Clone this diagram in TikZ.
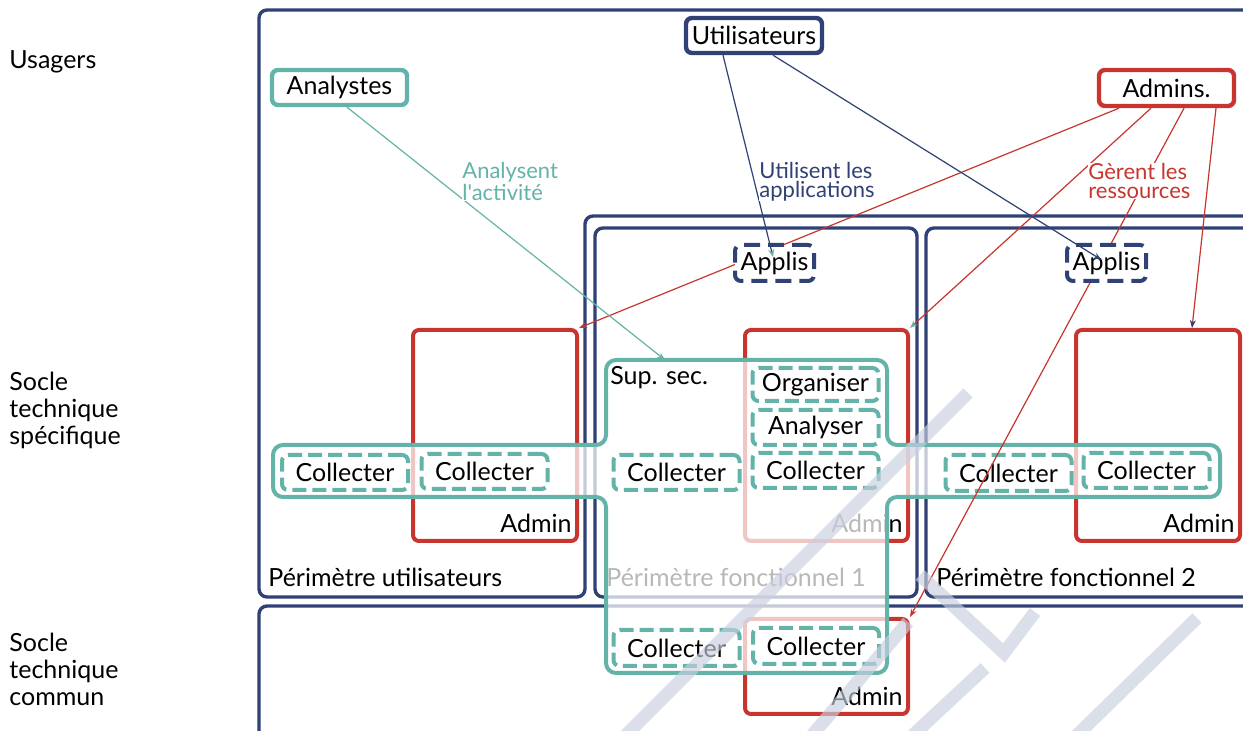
\documentclass[tikz,border=0pt]{standalone}
\usepackage{fontspec}
\setmainfont{Lato}[Ligatures=TeXOff]
\usetikzlibrary{arrows.meta,calc}
\definecolor{navy}{HTML}{2F4175}
\definecolor{rouge}{HTML}{C8352E}
\definecolor{sarcelle}{HTML}{63B3A9}
\definecolor{filigrane}{HTML}{C9CFE0}
\begin{document}
\begin{tikzpicture}[x=0.5pt,y=-0.5pt,
  font=\fontsize{12.5pt}{13.5pt}\selectfont,
  navyframe/.style={draw=navy,line width=1.7pt,rounded corners=4pt},
  adminbox/.style={draw=rouge,line width=2pt,rounded corners=3pt,inner sep=0pt},
  actorbox/.style={draw=#1,line width=2.2pt,rounded corners=3pt,fill=white,inner sep=0pt},
  taskbox/.style={draw=sarcelle,line width=2pt,rounded corners=3pt,dash pattern=on 7pt off 3pt,inner sep=0pt,minimum width=63pt,minimum height=17.5pt},
  appbox/.style={draw=navy,line width=2pt,rounded corners=3pt,dash pattern=on 8pt off 4pt,fill=white,inner sep=0pt,minimum width=39.5pt,minimum height=18pt},
  linkline/.style={line width=0.6pt},
  elabel/.style={font=\fontsize{11pt}{9.5pt}\selectfont,align=left,inner sep=0pt,anchor=north west,fill=white},
  sidelabel/.style={align=left,inner sep=0pt,anchor=north west},
  plain/.style={inner sep=0pt,anchor=base west},
  arrowto/.style={-{Stealth[length=4pt,width=3pt,color=#1]}},
  wmstroke/.style={draw=filigrane,line width=6.5pt,opacity=0.65}
]
\useasboundingbox (0,0) rectangle (1243,731);
\clip (0,0) rectangle (1243,731);
\fill[white] (0,0) rectangle (1243,731);

% layer titles
\node[sidelabel] (usagers) at (9,50) {Usagers};
\node[sidelabel] (sts) at (9,372) {Socle\\technique\\spécifique};
\node[sidelabel] (stc) at (9,633) {Socle\\technique\\commun};

% perimeters
\draw[navyframe] (259,10) -- (1270,10) -- (1270,216) -- (585,216) -- (585,597) -- (259,597) -- cycle;
\draw[navyframe] (595,228) rectangle (917,597);
\draw[navyframe] (926,228) rectangle (1270,597);
\draw[navyframe] (259,606) rectangle (1270,760);
\node[plain] (pu) at (268,587) {Périmètre utilisateurs};
\node[plain] (pf1) at (606,587) {Périmètre fonctionnel 1};
\node[plain] (pf2) at (936,587) {Périmètre fonctionnel 2};

% administration zones
\node[adminbox,minimum width=82pt,minimum height=105.5pt] (adminU) at (495,435.5) {};
\node[adminbox,minimum width=81.5pt,minimum height=105.5pt] (adminF1) at (826.5,435.5) {};
\node[adminbox,minimum width=82pt,minimum height=105.5pt] (adminF2) at (1158,435.5) {};
\node[adminbox,minimum width=81.5pt,minimum height=47.5pt] (adminB) at (826.5,666.5) {};
\node[inner sep=0pt,anchor=base east] (adminUt) at ($(adminU.south east)+(-7,-10)$) {Admin};
\node[inner sep=0pt,anchor=base east] (adminF1t) at ($(adminF1.south east)+(-7,-10)$) {Admin};
\node[inner sep=0pt,anchor=base east] (adminF2t) at ($(adminF2.south east)+(-7,-10)$) {Admin};
\node[inner sep=0pt,anchor=base east] (adminBt) at ($(adminB.south east)+(-7,-10)$) {Admin};

% security supervision zone (veils what lies beneath)
\draw[draw=sarcelle,line width=2pt,rounded corners=5pt,fill=white,fill opacity=0.72]
  (606,360) -- (887,360) -- (887,445) -- (1220,445) -- (1220,497) -- (887,497)
  -- (887,673) -- (606,673) -- (606,497) -- (273,497) -- (273,445) -- (606,445) -- cycle;
\node[plain] (supsec) at (610,385) {Sup. sec.};
\coordinate (suptop) at (665,360);

% collection and analysis tasks
\node[taskbox] (c1) at (345,472.5) {Collecter};
\node[taskbox] (c2) at (484.5,471.5) {Collecter};
\node[taskbox] (c3) at (676.5,472.5) {Collecter};
\node[taskbox,minimum height=16.5pt] (organiser) at (815.5,384.5) {Organiser};
\node[taskbox] (analyser) at (815.5,427.5) {Analyser};
\node[taskbox] (c4) at (815.5,470.5) {Collecter};
\node[taskbox,minimum height=18pt] (c5) at (1008.5,473) {Collecter};
\node[taskbox] (c6) at (1146.5,470.5) {Collecter};
\node[taskbox,minimum height=18pt] (c7) at (676.5,648) {Collecter};
\node[taskbox,minimum height=18pt] (c8) at (816,646) {Collecter};

% actors
\node[actorbox=navy,minimum width=68pt,minimum height=17.5pt] (utilisateurs) at (754,35.5) {Utilisateurs};
\node[actorbox=sarcelle,minimum width=67.5pt,minimum height=17.5pt] (analystes) at (339.5,87.5) {Analystes};
\node[actorbox=rouge,minimum width=67.5pt,minimum height=18pt] (admins) at (1166.5,88) {Admins.};

% administrators manage resources
\draw[linkline,rouge,arrowto=rouge] ($(admins.south)+(-47.5,0)$) -- (adminU.north east);
\draw[linkline,rouge,arrowto=sarcelle] ($(admins.south)+(-15.5,0)$) -- (adminF1.north east);
\draw[linkline,rouge,arrowto=rouge] ($(admins.south)+(17.5,0)$) -- (adminB.north east);
\draw[linkline,rouge,arrowto=navy] ($(admins.south)+(49.5,0)$) -- ($(adminF2.north)+(34,0)$);

% applications
\node[appbox] (applis1) at (774.5,263) {Applis};
\node[appbox] (applis2) at (1106.5,263) {Applis};

% users and analysts
\draw[linkline,navy,arrowto=sarcelle,shorten >=3pt] ($(utilisateurs.south)+(-31,0)$) -- (applis1.center);
\draw[linkline,navy,arrowto=navy,shorten >=3pt] ($(utilisateurs.south)+(19,0)$) -- (applis2.center);
\draw[linkline,sarcelle,arrowto=sarcelle] ($(analystes.south)+(7.5,0)$) -- (suptop);

% connector captions
\node[elabel,text=sarcelle] (lanalyse) at (462,162) {Analysent\\l'activité};
\node[elabel,text=navy] (lutilise) at (759,162) {Utilisent les\\applications};
\node[elabel,text=rouge] (lgere) at (1088,163) {Gèrent les\\ressources};

% watermark strokes
\draw[wmstroke] (621,740) -- (968,393);
\draw[wmstroke] (808,740) -- (908,622);
\draw[wmstroke] (913,735) -- (985,668);
\draw[wmstroke] (920,575) -- (1004,653) -- (1035,612);
\draw[wmstroke] (1197,618) -- (1072,740);
\end{tikzpicture}
\end{document}
